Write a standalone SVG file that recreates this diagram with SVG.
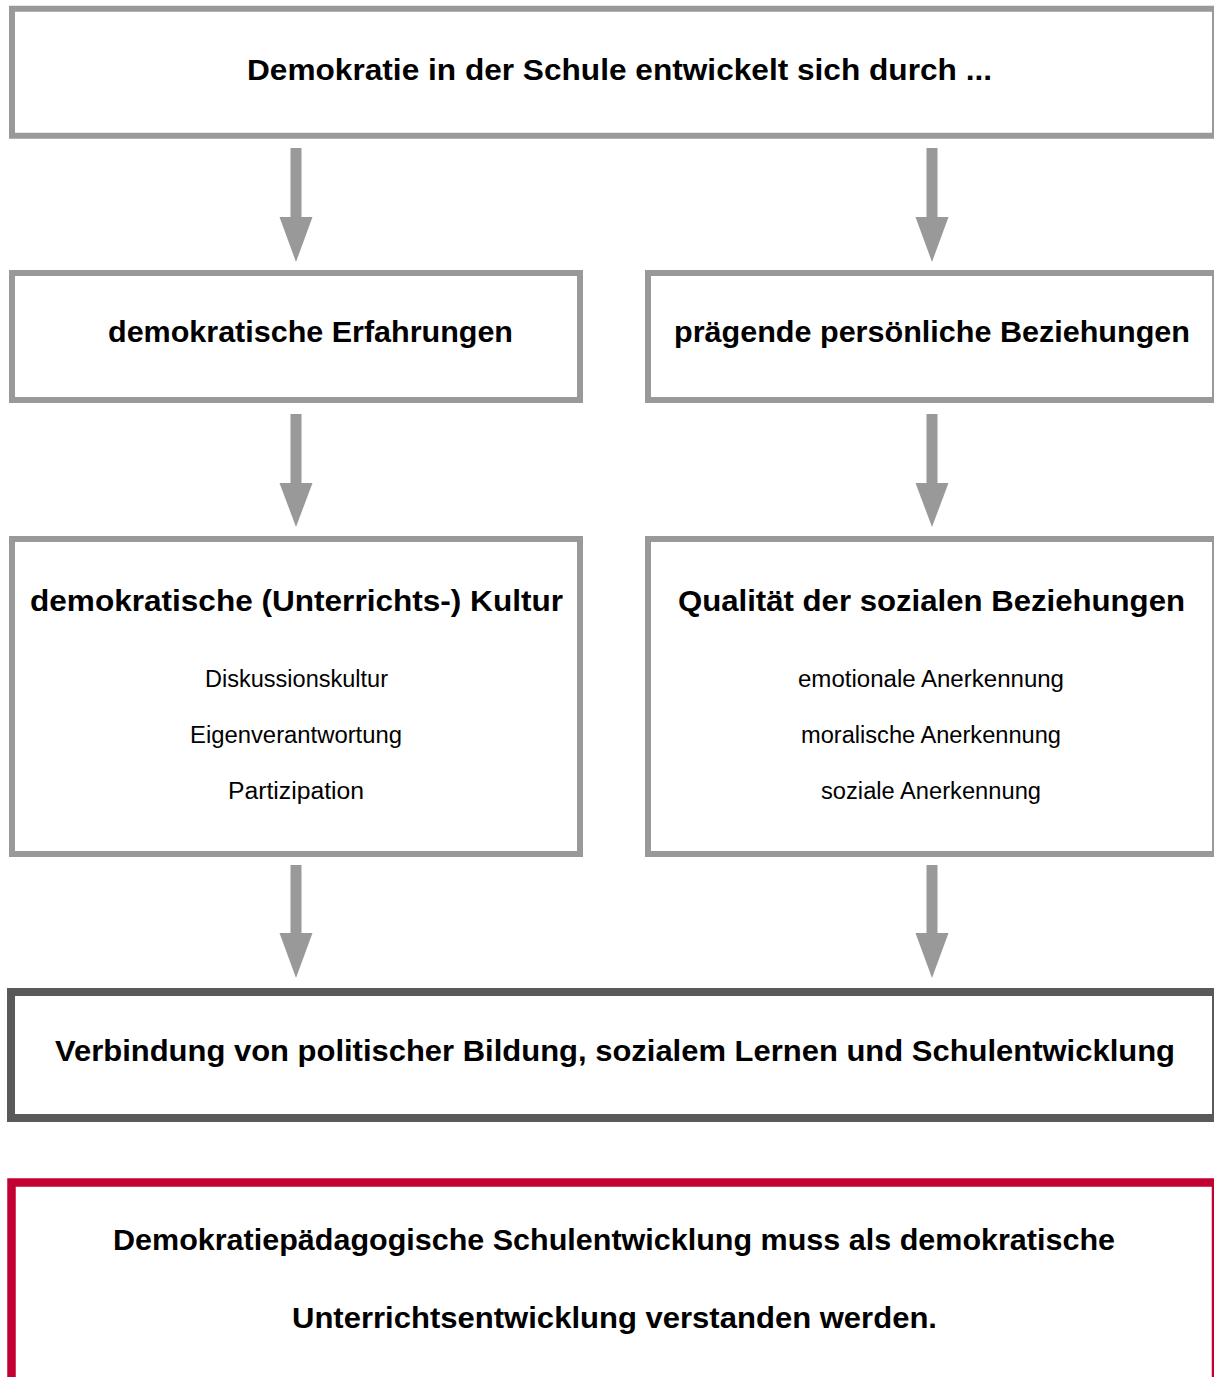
<svg xmlns="http://www.w3.org/2000/svg" width="1214" height="1377" viewBox="0 0 1214 1377">
<style>
.box{fill:#ffffff;stroke:#999999;stroke-width:6}
.dark{fill:#ffffff;stroke:#595959;stroke-width:8}
.red{fill:#ffffff;stroke:#c20031;stroke-width:8.5}
.b{font-family:"Liberation Sans",Arial,sans-serif;font-weight:bold;font-size:30px;fill:#000;text-anchor:middle}
.r{font-family:"Liberation Sans",Arial,sans-serif;font-size:23.5px;fill:#000;text-anchor:middle}
.arrow{fill:#999999}
</style>
<rect width="1214" height="1377" fill="#ffffff"/>
<g id="node-top">
<rect class="box" x="12" y="8.75" width="1203" height="127"/>
<text class="b" x="619.5" y="79.5" font-size="31.5" textLength="745" lengthAdjust="spacingAndGlyphs">Demokratie in der Schule entwickelt sich durch ...</text>
</g>
<g id="node-erfahrungen">
<rect class="box" x="12" y="273" width="568" height="127"/>
<text class="b" x="310.5" y="342" textLength="405" lengthAdjust="spacingAndGlyphs">demokratische Erfahrungen</text>
</g>
<g id="node-beziehungen">
<rect class="box" x="648" y="273" width="567" height="127"/>
<text class="b" x="932" y="342" textLength="516" lengthAdjust="spacingAndGlyphs">prägende persönliche Beziehungen</text>
</g>
<g id="node-kultur">
<rect class="box" x="12" y="539" width="568" height="315"/>
<text class="b" x="296.5" y="611" textLength="533" lengthAdjust="spacingAndGlyphs">demokratische (Unterrichts-) Kultur</text>
<text class="r" x="296.5" y="687" textLength="183" lengthAdjust="spacingAndGlyphs">Diskussionskultur</text>
<text class="r" x="296" y="743" textLength="212" lengthAdjust="spacingAndGlyphs">Eigenverantwortung</text>
<text class="r" x="296" y="799" textLength="136" lengthAdjust="spacingAndGlyphs">Partizipation</text>
</g>
<g id="node-qualitaet">
<rect class="box" x="648" y="539" width="567" height="315"/>
<text class="b" x="931.5" y="611" textLength="507" lengthAdjust="spacingAndGlyphs">Qualität der sozialen Beziehungen</text>
<text class="r" x="931" y="687" textLength="266" lengthAdjust="spacingAndGlyphs">emotionale Anerkennung</text>
<text class="r" x="931" y="743" textLength="260" lengthAdjust="spacingAndGlyphs">moralische Anerkennung</text>
<text class="r" x="931" y="799" textLength="220" lengthAdjust="spacingAndGlyphs">soziale Anerkennung</text>
</g>
<g id="node-verbindung">
<rect class="dark" x="11" y="992" width="1205" height="126"/>
<text class="b" x="615" y="1061" textLength="1120" lengthAdjust="spacingAndGlyphs">Verbindung von politischer Bildung, sozialem Lernen und Schulentwicklung</text>
</g>
<g id="node-fazit">
<rect class="red" x="11.5" y="1182.5" width="1204.5" height="260"/>
<text class="b" x="614" y="1250" textLength="1002" lengthAdjust="spacingAndGlyphs">Demokratiepädagogische Schulentwicklung muss als demokratische</text>
<text class="b" x="614.5" y="1328" textLength="645" lengthAdjust="spacingAndGlyphs">Unterrichtsentwicklung verstanden werden.</text>
</g>
<g id="connectors">
<path class="arrow" d="M290.5 148H301.5V217H312.5L296 262L279.5 217H290.5Z"/>
<path class="arrow" d="M926.5 148H937.5V217H948.5L932 262L915.5 217H926.5Z"/>
<path class="arrow" d="M290.5 414H301.5V483H312.5L296 527L279.5 483H290.5Z"/>
<path class="arrow" d="M926.5 414H937.5V483H948.5L932 527L915.5 483H926.5Z"/>
<path class="arrow" d="M290.5 865H301.5V933H312.5L296 978L279.5 933H290.5Z"/>
<path class="arrow" d="M926.5 865H937.5V933H948.5L932 978L915.5 933H926.5Z"/>
</g>
</svg>
